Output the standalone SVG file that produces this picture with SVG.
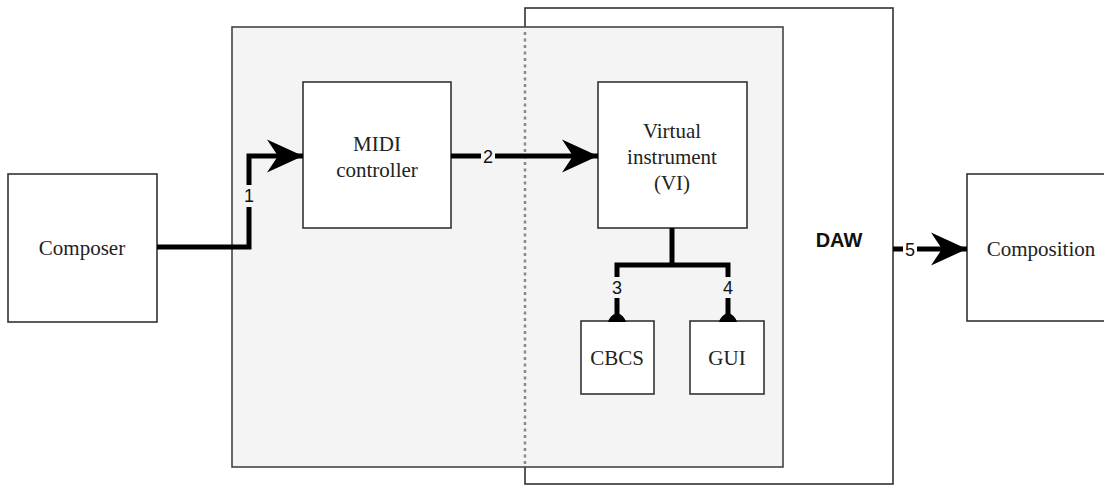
<svg xmlns="http://www.w3.org/2000/svg" width="1104" height="486" viewBox="0 0 1104 486">
<style>
.box{fill:#fff;stroke:#333;stroke-width:1.6}
.t{font-family:"Liberation Serif","Times New Roman",serif;font-size:21px;fill:#222;text-anchor:middle}
.n{font-family:"Liberation Sans",Arial,sans-serif;font-size:18px;fill:#111;text-anchor:middle}
.ln{fill:none;stroke:#000;stroke-width:5}
</style>
<defs>
<marker id="arr" markerUnits="userSpaceOnUse" markerWidth="38" markerHeight="36" refX="36" refY="17" orient="auto" viewBox="0 0 38 36">
<path d="M0,0.5 L36,17 L0,33.5 L11,17 Z" fill="#000"/>
</marker>
</defs>
<g id="daw">
<rect x="525" y="8" width="368" height="476" fill="#fff" stroke="#333" stroke-width="1.6"/>
</g>
<g id="container">
<rect x="232" y="27" width="551" height="440" fill="#f4f4f4" stroke="#444" stroke-width="1.6"/>
<line x1="525" y1="32" x2="525" y2="465" stroke="#888" stroke-width="2.5" stroke-dasharray="3,3.5"/>
</g>
<g id="daw-label"><text x="839" y="247" font-family="Liberation Sans,Arial,sans-serif" font-size="20" font-weight="bold" text-anchor="middle" fill="#111">DAW</text></g>
<g id="composer"><rect class="box" x="8" y="174" width="149" height="148"/><text class="t" x="82" y="255">Composer</text></g>
<g id="midi"><rect class="box" x="303" y="82" width="148" height="146"/><text class="t" x="377" y="151">MIDI</text><text class="t" x="377" y="177">controller</text></g>
<g id="vi"><rect class="box" x="598" y="82" width="149" height="146"/><text class="t" x="672" y="138">Virtual</text><text class="t" x="672" y="164">instrument</text><text class="t" x="672" y="190">(VI)</text></g>
<g id="cbcs"><rect class="box" x="581" y="321" width="73" height="73"/><text class="t" x="617" y="365">CBCS</text></g>
<g id="gui"><rect class="box" x="690" y="321" width="74" height="73"/><text class="t" x="727" y="365">GUI</text></g>
<g id="composition"><rect class="box" x="967" y="174" width="148" height="147"/><text class="t" x="1041" y="256">Composition</text></g>
<g id="connectors">
<path class="ln" d="M157,247 H249 V156 H303" marker-end="url(#arr)"/>
<path class="ln" d="M451,156 H598" marker-end="url(#arr)"/>
<path class="ln" d="M893,249 H967" marker-end="url(#arr)"/>
<path class="ln" d="M672,228 V265 M614.5,265 H730.5 M617,265 V318 M728,265 V318"/>
<path d="M608,322 Q610,315 617,313 Q624,315 626,322 Z" fill="#000"/>
<path d="M719,322 Q721,315 728,313 Q735,315 737,322 Z" fill="#000"/>
<rect x="242" y="185" width="14" height="22" fill="#f4f4f4"/><text class="n" x="249" y="202">1</text>
<rect x="481" y="146" width="14" height="21" fill="#f4f4f4"/><text class="n" x="488" y="163">2</text>
<rect x="610" y="277" width="14" height="21" fill="#f4f4f4"/><text class="n" x="617" y="294">3</text>
<rect x="721" y="277" width="14" height="21" fill="#f4f4f4"/><text class="n" x="728" y="294">4</text>
<rect x="903" y="239" width="14" height="21" fill="#fff"/><text class="n" x="910" y="256">5</text>
</g>
</svg>
